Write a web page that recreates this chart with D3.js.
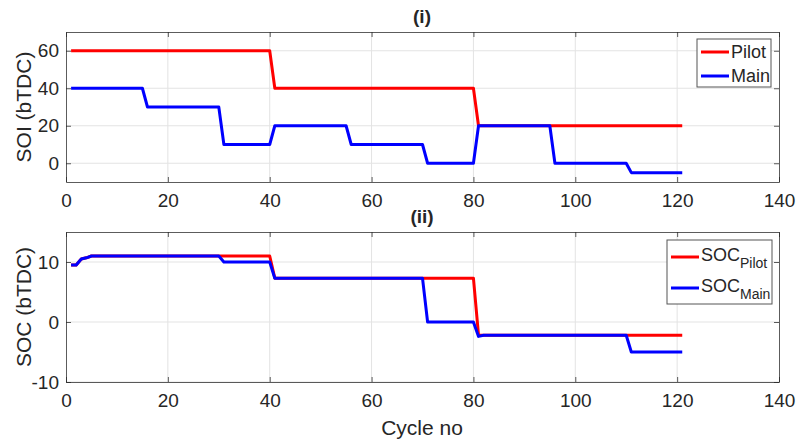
<!DOCTYPE html>
<html lang="en">
<head>
<meta charset="UTF-8">
<title>SOI / SOC vs cycle</title>
<style>
  body { margin: 0; background: #fff; }
  svg text { font-family: "Liberation Sans", Arial, sans-serif; fill: #262626; }
</style>
</head>
<body>
<svg width="799" height="444"></svg>
<script src="https://d3js.org/d3.v7.min.js"></script>
<script>
  // cycle numbers where the value changes (step + 1-cycle ramp)
  const soiPilot = [[1, 60], [40, 60], [41, 40], [80, 40], [81, 20], [121, 20]];
  const soiMain = [[1, 40], [15, 40], [16, 30], [30, 30], [31, 10], [40, 10], [41, 20], [55, 20],
                   [56, 10], [70, 10], [71, 0], [80, 0], [81, 20], [95, 20], [96, 0], [110, 0],
                   [111, -5], [121, -5]];
  const socPilot = [[1, 9.5], [2, 9.5], [3, 10.5], [4, 10.7], [5, 11], [40, 11], [41, 7.3],
                    [80, 7.3], [81, -2.2], [121, -2.2]];
  const socMain = [[1, 9.5], [2, 9.5], [3, 10.5], [4, 10.7], [5, 11], [30, 11], [31, 10], [40, 10],
                   [41, 7.3], [70, 7.3], [71, 0], [80, 0], [81, -2.4], [82, -2.2], [110, -2.2],
                   [111, -5], [121, -5]];

  const xTicks = [0, 20, 40, 60, 80, 100, 120, 140];
  const soiTicks = [0, 20, 40, 60];
  const socTicks = [-10, 0, 10];

  const svg = d3.select('svg');
  const left = 66, right = 779;
  const x = d3.scaleLinear().domain([0, 140]).range([left, right]);
  const fmt = d => String(d); // plain hyphen for negatives

  function panel(top, bottom, yDomain, yTicks, series, title, yLabel, legend, legendBox) {
    const y = d3.scaleLinear().domain(yDomain).range([bottom, top]);
    const g = svg.append('g');

    // grid
    g.selectAll('.gx').data(xTicks.slice(1, -1)).join('line')
      .attr('x1', d => x(d)).attr('x2', d => x(d)).attr('y1', top).attr('y2', bottom)
      .attr('stroke', '#e3e3e3').attr('stroke-width', 1);
    g.selectAll('.gy').data(yTicks).join('line')
      .attr('x1', left).attr('x2', right).attr('y1', d => y(d)).attr('y2', d => y(d))
      .attr('stroke', '#e3e3e3').attr('stroke-width', 1);

    // axes with inward ticks on all four sides
    const ax = (gen, tx, ty) => g.append('g').attr('transform', `translate(${tx},${ty})`).call(gen)
      .call(s => s.select('.domain').attr('stroke', '#262626').attr('stroke-opacity', 0.75))
      .call(s => s.selectAll('.tick line').attr('stroke', '#262626').attr('stroke-opacity', 0.75));
    const xb = ax(d3.axisBottom(x).tickValues(xTicks).tickFormat(fmt).tickSize(-5).tickSizeOuter(0).tickPadding(12), 0, bottom);
    xb.selectAll('text').attr('font-size', 19);
    ax(d3.axisTop(x).tickValues(xTicks).tickSize(-5).tickSizeOuter(0).tickFormat(''), 0, top);
    const yl = ax(d3.axisLeft(y).tickValues(yTicks).tickFormat(fmt).tickSize(-5).tickSizeOuter(0).tickPadding(7), left, 0);
    yl.selectAll('text').attr('font-size', 19);
    ax(d3.axisRight(y).tickValues(yTicks).tickSize(-5).tickSizeOuter(0).tickFormat(''), right, 0);
    g.selectAll('.tick text').style('font-family', '"Liberation Sans", Arial, sans-serif').attr('fill', '#262626');

    // series
    const line = d3.line().x(d => x(d[0])).y(d => y(d[1]));
    series.forEach(s => {
      g.append('path').datum(s.data)
        .attr('fill', 'none').attr('stroke', s.color).attr('stroke-width', 3)
        .attr('stroke-linejoin', 'round').attr('d', line);
    });

    // title and y label
    g.append('text').attr('x', 422).attr('y', top - 9).attr('text-anchor', 'middle')
      .attr('font-size', 19).attr('font-weight', 'bold').text(title);
    g.append('text').attr('transform', `translate(31,${(top + bottom) / 2}) rotate(-90)`)
      .attr('text-anchor', 'middle').attr('font-size', 21).text(yLabel);

    // legend
    const lg = g.append('g');
    lg.append('rect').attr('x', legendBox.x).attr('y', legendBox.y)
      .attr('width', legendBox.w).attr('height', legendBox.h)
      .attr('fill', '#fff').attr('stroke', '#555').attr('stroke-width', 1);
    series.forEach((s, i) => {
      const ly = legendBox.y + legendBox.first + i * legendBox.step;
      lg.append('line').attr('x1', legendBox.x + 4).attr('x2', legendBox.x + 32)
        .attr('y1', ly).attr('y2', ly).attr('stroke', s.color).attr('stroke-width', 3);
      const t = lg.append('text').attr('x', legendBox.x + 34).attr('y', ly + legendBox.dy).attr('font-size', 18);
      t.append('tspan').text(legend[i][0]);
      if (legend[i][1]) t.append('tspan').attr('font-size', 14).attr('dy', 7).text(legend[i][1]);
    });
  }

  panel(32, 182, [-10, 70], soiTicks,
    [{ data: soiPilot, color: '#ff0000' }, { data: soiMain, color: '#0000ff' }],
    '(i)', 'SOI (bTDC)', [['Pilot'], ['Main']],
    { x: 697, y: 39, w: 74, h: 48, first: 13, step: 24, dy: 6 });

  panel(232, 382, [-10, 15], socTicks,
    [{ data: socPilot, color: '#ff0000' }, { data: socMain, color: '#0000ff' }],
    '(ii)', 'SOC (bTDC)', [['SOC', 'Pilot'], ['SOC', 'Main']],
    { x: 667, y: 240, w: 105, h: 64, first: 17, step: 31, dy: 4 });

  svg.append('text').attr('x', 422).attr('y', 435).attr('text-anchor', 'middle')
    .attr('font-size', 21).text('Cycle no');
</script>
</body>
</html>
